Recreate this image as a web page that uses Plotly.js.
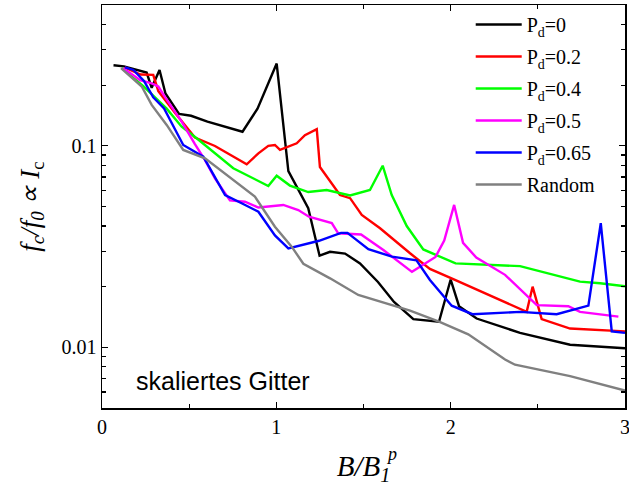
<!DOCTYPE html>
<html>
<head>
<meta charset="utf-8">
<script src="https://cdn.plot.ly/plotly-3.0.1.min.js"></script>
<style>html,body{margin:0;padding:0;background:#fff;}#chart{width:629px;height:490px;}</style>
</head>
<body>
<div id="chart"></div>
<script>
// ---- data ----
const seriesNames = ['P<sub>d</sub>=0', 'P<sub>d</sub>=0.2', 'P<sub>d</sub>=0.4', 'P<sub>d</sub>=0.5', 'P<sub>d</sub>=0.65', 'Random'];

const xPd0 = [0.066,0.126,0.256,0.285,0.330,0.364,0.442,0.511,0.605,0.806,0.892,1.002,1.069,1.126,1.183,1.248,1.308,1.394,1.480,1.583,1.675,1.786,1.933,2.000,2.048,2.149,2.398,2.685,3.0];
const yPd0 = [0.251,0.248,0.231,0.194,0.238,0.182,0.144,0.141,0.132,0.1175,0.153,0.256,0.075,0.0604,0.049,0.0285,0.0298,0.0292,0.0261,0.0211,0.0168,0.0138,0.0134,0.0217,0.016,0.0139,0.0118,0.0103,0.0099];

const xPd02 = [0.13,0.221,0.294,0.323,0.424,0.533,0.648,0.830,0.897,0.954,0.992,1.021,1.117,1.164,1.232,1.250,1.365,1.423,1.490,1.595,1.767,1.881,2.015,2.283,2.436,2.470,2.522,2.685,3.0];
const yPd02 = [0.245,0.226,0.225,0.187,0.144,0.110,0.0998,0.081,0.0918,0.100,0.101,0.0954,0.103,0.113,0.121,0.0785,0.057,0.055,0.0454,0.039,0.0293,0.0245,0.0218,0.0172,0.015,0.020,0.0138,0.0124,0.012];

const xPd04 = [0.113,0.237,0.371,0.457,0.543,0.648,0.753,0.954,1.002,1.078,1.183,1.289,1.423,1.537,1.610,1.662,1.748,1.843,2.028,2.398,2.589,2.742,2.857,3.0];
const yPd04 = [0.243,0.198,0.153,0.1244,0.109,0.0918,0.0774,0.0632,0.0711,0.0635,0.059,0.0604,0.0567,0.0604,0.0797,0.057,0.040,0.0306,0.0261,0.0253,0.0229,0.0212,0.0208,0.0201];

const xPd05 = [0.122,0.218,0.285,0.323,0.361,0.457,0.533,0.591,0.648,0.734,0.820,0.897,1.040,1.126,1.187,1.318,1.355,1.486,1.614,1.778,1.913,1.963,2.020,2.071,2.147,2.312,2.494,2.675,2.742,2.962];
const yPd05 = [0.243,0.212,0.204,0.197,0.175,0.132,0.102,0.085,0.069,0.0536,0.0528,0.0494,0.0509,0.048,0.0445,0.0414,0.0368,0.0363,0.0304,0.0237,0.0281,0.0339,0.0509,0.033,0.0279,0.0229,0.0162,0.016,0.015,0.0142];

const xPd065 = [0.132,0.180,0.241,0.294,0.356,0.466,0.581,0.706,0.801,0.897,0.992,1.069,1.245,1.371,1.408,1.528,1.663,1.804,1.881,2.006,2.125,2.398,2.608,2.790,2.861,2.924,3.0];
const yPd065 = [0.245,0.238,0.21,0.174,0.1535,0.101,0.0884,0.057,0.0519,0.0471,0.0359,0.031,0.0338,0.037,0.037,0.0307,0.0282,0.027,0.0216,0.0161,0.0146,0.015,0.0146,0.0161,0.0413,0.012,0.0118];

const xRandom = [0.109,0.228,0.285,0.371,0.466,0.591,0.877,0.992,1.088,1.155,1.308,1.470,1.767,1.933,2.101,2.312,2.369,2.685,3.0];
const yRandom = [0.243,0.197,0.1596,0.127,0.0954,0.0867,0.056,0.0397,0.0316,0.026,0.022,0.0182,0.0152,0.0134,0.0116,0.0087,0.0082,0.0072,0.0061];

const xTickVals = [0, 1, 2, 3];
const xTickText = ['0', '1', '2', '3'];
const yTickVals = [0.01, 0.1];
const yTickText = ['0.01', '0.1'];

// ---- styling ----
const colors = ['#000000', '#ff0000', '#00ff00', '#ff00ff', '#0000ff', '#808080'];
const xs = [xPd0, xPd02, xPd04, xPd05, xPd065, xRandom];
const ys = [yPd0, yPd02, yPd04, yPd05, yPd065, yRandom];

const traces = xs.map((x, i) => ({
  x: x, y: ys[i], type: 'scatter', mode: 'lines', name: seriesNames[i],
  legendgroup: 'g' + i,
  line: {color: colors[i], width: 2.4}
}));

const serif = 'Liberation Serif, Times New Roman, serif';
const yMinor = [];
[0.001, 0.01, 0.1].forEach(d => { for (let k = 2; k <= 9; k++) yMinor.push(+(k * d).toPrecision(3)); });

const layout = {
  width: 629, height: 490,
  margin: {l: 102, r: 4, t: 5, b: 82},
  paper_bgcolor: '#fff', plot_bgcolor: '#fff',
  font: {family: serif, size: 20, color: '#000'},
  showlegend: true,
  legend: {x: 0.705, y: 1.0, xanchor: 'left', yanchor: 'top', bgcolor: 'rgba(0,0,0,0)',
           font: {family: serif, size: 20, color: '#000'}, tracegroupgap: 3, itemwidth: 46},
  xaxis: {
    range: [0, 3], tickmode: 'array', tickvals: xTickVals, ticktext: xTickText,
    ticks: 'inside', ticklen: 6, tickwidth: 1.3, tickcolor: '#000',
    ticklabeloverflow: 'allow',
    showline: true, linecolor: '#000', linewidth: 1.5, mirror: 'ticks',
    showgrid: false, zeroline: false,
    minor: {dtick: 0.5, ticks: 'inside', ticklen: 4, tickwidth: 1.2, tickcolor: '#000', showgrid: false},
    tickfont: {family: serif, size: 20},
    title: {text: '<i>B/B</i><sub><i>1</i></sub>', font: {family: serif, size: 29}, standoff: 19}
  },
  yaxis: {
    type: 'log', range: [Math.log10(0.005), Math.log10(0.5)],
    tickmode: 'array', tickvals: yTickVals, ticktext: yTickText,
    ticks: 'inside', ticklen: 6, tickwidth: 1.3, tickcolor: '#000',
    showline: true, linecolor: '#000', linewidth: 1.5, mirror: 'ticks',
    showgrid: false, zeroline: false,
    minor: {tickmode: 'array', tickvals: yMinor, ticks: 'inside', ticklen: 4, tickwidth: 1.2, tickcolor: '#000', showgrid: false},
    tickfont: {family: serif, size: 20},
    title: {text: '<i>f</i><sub><i>c</i></sub><i>/f</i><sub><i>0</i></sub><i> ∝ I</i><sub>c</sub>', font: {family: serif, size: 27}, standoff: 14}
  },
  annotations: [
    {text: 'skaliertes Gitter', xref: 'paper', yref: 'paper', x: 0.231, y: 0.067,
     xanchor: 'center', yanchor: 'middle', showarrow: false,
     font: {family: 'Liberation Sans, Arial, sans-serif', size: 25, color: '#000'}},
    {text: '<i>p</i>', xref: 'paper', yref: 'paper', x: 0.553, y: -0.115,
     xanchor: 'center', yanchor: 'middle', showarrow: false,
     font: {family: serif, size: 18, color: '#000'}}
  ]
};

Plotly.newPlot('chart', traces, layout, {displayModeBar: false, staticPlot: true});
</script>
</body>
</html>
